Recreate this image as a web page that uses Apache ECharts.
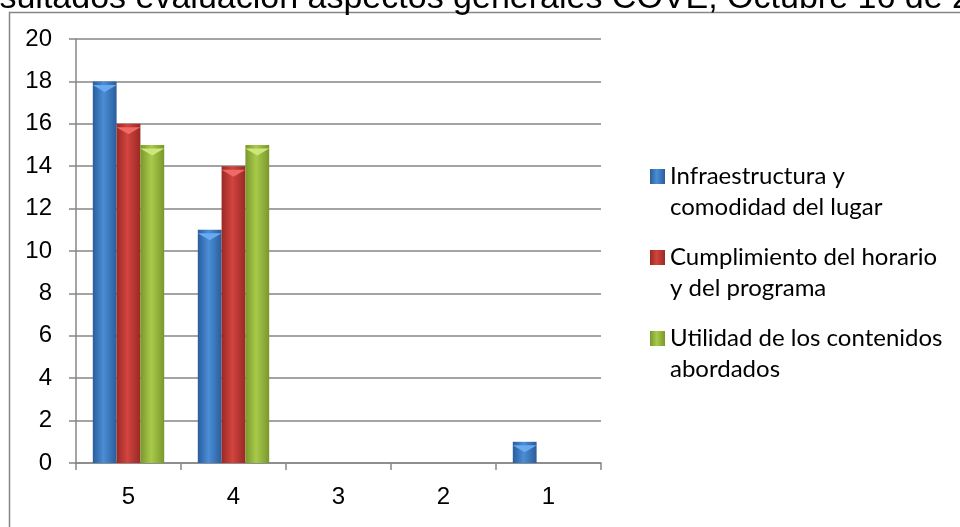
<!DOCTYPE html>
<html>
<head>
<meta charset="utf-8">
<script src="https://cdn.jsdelivr.net/npm/echarts@6/dist/echarts.min.js"></script>
<style>html,body{margin:0;padding:0;background:#fff}#c{width:960px;height:527px}</style>
</head>
<body>
<div id="c"></div>
<script>
const titleText = 'Resultados evaluación aspectos generales COVE, Octubre 16 de 2012';
const categories = ['5', '4', '3', '2', '1'];
const seriesNames = ['Infraestructura y\ncomodidad del lugar', 'Cumplimiento del horario\ny del programa', 'Utilidad de los contenidos\nabordados'];
const infraestructura = [18, 11, 0, 0, 1];
const cumplimiento = [16, 14, 0, 0, 0];
const utilidad = [15, 15, 0, 0, 0];
const yTicks = [0, 2, 4, 6, 8, 10, 12, 14, 16, 18, 20];

function grad(edge, mid) {
  return new echarts.graphic.LinearGradient(0, 0, 1, 0, [
    {offset: 0, color: edge}, {offset: 0.45, color: mid}, {offset: 1, color: edge}
  ]);
}
const palette = [
  grad('#2a5d9c', '#4a8ed6'),
  grad('#9a2925', '#d2443f'),
  grad('#7a982b', '#a8ca4b')
];
const capColors = ['#6aaaf0', '#ee6a64', '#cfe67a'];
const values = [infraestructura, cumplimiento, utilidad];
const legendIcon = 'path://M0,0L0.01,0L0.01,0.01Z M0,8L15,8L15,23L0,23Z M0,62L0.01,62L0.01,61.99Z';

const chart = echarts.init(document.getElementById('c'));
const barSeries = seriesNames.map((n, i) => ({
  name: n, type: 'bar', data: values[i], barGap: '0%', barCategoryGap: '32%',
  itemStyle: {color: palette[i]}
}));
const capSeries = seriesNames.map((n, i) => ({
  type: 'pictorialBar', data: values[i].map(v => v > 0 ? v : '-'),
  barGap: '0%', barCategoryGap: '32%',
  symbol: 'triangle', symbolRotate: 180, symbolSize: ['100%', 7],
  symbolPosition: 'end', symbolOffset: [0, '50%'],
  itemStyle: {color: capColors[i]}, z: 3, legendHoverLink: false, silent: true
}));

chart.setOption({
  animation: false,
  title: {
    text: titleText, left: -49, top: -23,
    textStyle: {fontFamily: 'Liberation Sans', fontSize: 34, lineHeight: 34, fontWeight: 'normal', color: '#000'}
  },
  graphic: [{
    type: 'polyline', silent: true,
    shape: {points: [[9.5, 530], [9.5, 12.5], [965, 12.5]]},
    style: {stroke: '#868686', lineWidth: 1.5, fill: null}
  }],
  legend: {
    orient: 'vertical', left: 645, top: 156, itemWidth: 15, itemHeight: 62, itemGap: 19,
    icon: legendIcon, itemStyle: {borderWidth: 0},
    textStyle: {fontFamily: 'Lato', fontSize: 24, lineHeight: 31, color: '#000'},
    data: seriesNames
  },
  grid: {left: 76, right: 359, top: 39, bottom: 64},
  xAxis: {
    type: 'category', data: categories,
    axisLine: {lineStyle: {color: '#868686', width: 1.5}},
    axisTick: {show: true, length: 7, lineStyle: {color: '#868686', width: 1.5}},
    axisLabel: {fontFamily: 'Liberation Sans', fontSize: 24, color: '#000', margin: 22}
  },
  yAxis: {
    type: 'value', min: yTicks[0], max: yTicks[yTicks.length - 1], interval: 2,
    axisLine: {show: true, lineStyle: {color: '#868686', width: 1.5}},
    axisTick: {show: true, length: 7, lineStyle: {color: '#868686', width: 1.5}},
    splitLine: {lineStyle: {color: '#868686', width: 1.5}},
    axisLabel: {fontFamily: 'Liberation Sans', fontSize: 24, color: '#000', margin: 24}
  },
  series: barSeries.concat(capSeries)
});
</script>
</body>
</html>
